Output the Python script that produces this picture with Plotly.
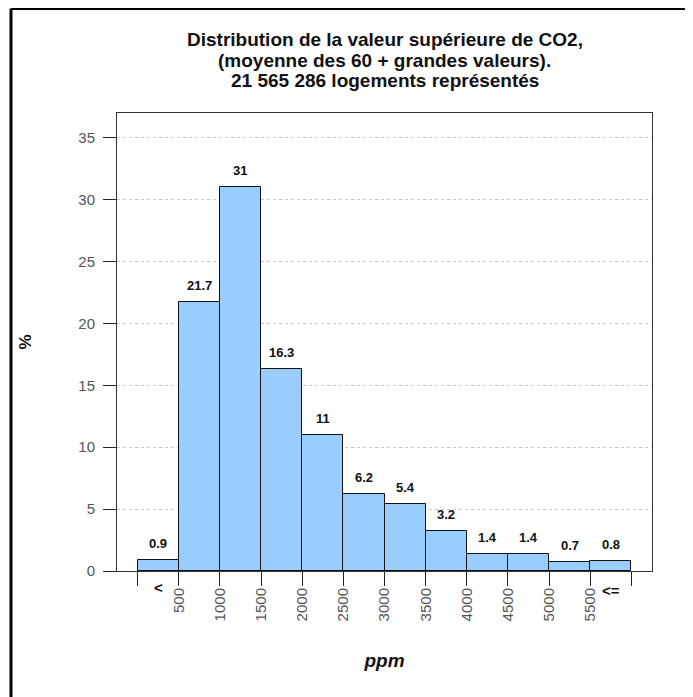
import plotly.graph_objects as go

# ---- data ----
categories = ["<500", "500-1000", "1000-1500", "1500-2000", "2000-2500", "2500-3000",
              "3000-3500", "3500-4000", "4000-4500", "4500-5000", "5000-5500", ">=5500"]
values = [0.9, 21.7, 31, 16.3, 11, 6.2, 5.4, 3.2, 1.4, 1.4, 0.7, 0.8]
value_labels = ["0.9", "21.7", "31", "16.3", "11", "6.2", "5.4", "3.2", "1.4", "1.4", "0.7", "0.8"]
edge_labels = ["", "500", "1000", "1500", "2000", "2500", "3000", "3500",
               "4000", "4500", "5000", "5500", ""]
y_ticks = [0, 5, 10, 15, 20, 25, 30, 35]

title_lines = ["Distribution de la valeur supérieure de CO2,",
               "(moyenne des 60 + grandes valeurs).",
               "21 565 286 logements représentés"]

FONT = "Liberation Sans, Arial, sans-serif"

xpos = list(range(len(categories)))
edges = [i - 0.5 for i in range(len(categories) + 1)]

W, H = 685, 689
ML, MR, MT, MB = 109, 41, 105, 126
PH = H - MT - MB
PW = W - ML - MR


def py(fy):
    # figure pixel y -> paper y
    return (H - MB - fy) / PH


def px(fx):
    return (fx - ML) / PW


fig = go.Figure()
fig.add_trace(go.Bar(
    x=xpos, y=values, width=1.0,
    marker=dict(color="#99CCFF", line=dict(color="#111111", width=1)),
    hoverinfo="skip", showlegend=False,
))

# value labels above bars
for x, v, t in zip(xpos, values, value_labels):
    fig.add_annotation(x=x, y=v, text=t, showarrow=False, yanchor="bottom",
                       yshift=7, font=dict(family=FONT, size=13, color="#111111",
                                           weight="bold"))

# open-ended category markers
fig.add_annotation(x=xpos[0], y=py(579), yref="paper", text="<", showarrow=False,
                   yanchor="middle", font=dict(family=FONT, size=15, color="#111111", weight="bold"))
fig.add_annotation(x=xpos[-1], y=py(582), yref="paper", text="<=", showarrow=False,
                   yanchor="middle", font=dict(family=FONT, size=15, color="#111111", weight="bold"))

# title (three lines)
for i, line in enumerate(title_lines):
    fig.add_annotation(x=0.5, xref="paper", y=py(32 + 20 * i), yref="paper", yanchor="middle",
                       text=line, showarrow=False,
                       font=dict(family=FONT, size=19, color="#111111", weight="bold"))

# outer frame (top and left visible)
fig.add_shape(type="line", xref="paper", yref="paper", x0=px(3), x1=px(W + 20),
              y0=py(0.5), y1=py(0.5), line=dict(color="black", width=3))
fig.add_shape(type="line", xref="paper", yref="paper", x0=px(3), x1=px(3),
              y0=py(0.5), y1=py(H + 20), line=dict(color="black", width=3))

fig.update_layout(
    width=W, height=H,
    margin=dict(l=ML, r=MR, t=MT, b=MB),
    paper_bgcolor="white", plot_bgcolor="white",
    bargap=0,
    xaxis=dict(
        range=[-1, 12], tickmode="array", tickvals=edges, ticktext=edge_labels,
        tickangle=-90, ticks="outside", ticklen=14, tickcolor="#222222", tickwidth=1,
        ticklabelstandoff=-4,
        showgrid=False, zeroline=False, showline=True, mirror=True,
        linecolor="#333333", linewidth=1,
        tickfont=dict(family=FONT, size=15, color="#555555"),
        title=dict(text="<i><b>ppm</b></i>", font=dict(family=FONT, size=19, color="#111111"),
                   standoff=33),
        fixedrange=True,
    ),
    yaxis=dict(
        range=[0, 37], tickmode="array", tickvals=y_ticks,
        ticks="outside", ticklen=13, tickcolor="#222222", tickwidth=1,
        ticklabelstandoff=5,
        showgrid=True, gridcolor="#c8c8c8", griddash="dot", gridwidth=1,
        zeroline=False, showline=True, mirror=True,
        linecolor="#333333", linewidth=1,
        tickfont=dict(family=FONT, size=15, color="#555555"),
        title=dict(text="<b>%</b>", font=dict(family=FONT, size=17, color="#111111"),
                   standoff=42),
        fixedrange=True,
    ),
)

fig.write_html("out.html")
